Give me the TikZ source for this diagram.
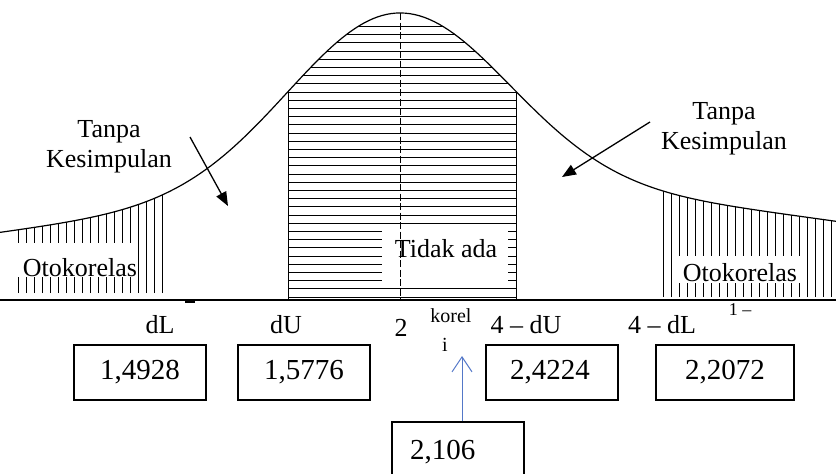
\documentclass[tikz,border=0pt]{standalone}
\usepackage{fontspec}
\setmainfont{Liberation Serif}
\usetikzlibrary{arrows.meta}
\definecolor{arrowblue}{RGB}{84,120,200}
\tikzset{
  valbox/.style={draw,line width=1.2pt,minimum width=132pt,minimum height=55pt,inner sep=0pt,font=\fontsize{29}{33}\selectfont},
  lbl/.style={font=\fontsize{26}{30}\selectfont,inner sep=0pt},
  tanpa/.style={font=\fontsize{26}{30}\selectfont,align=center,inner sep=0pt},
  pointer/.style={-{Triangle[length=14pt,width=11pt]},line width=1.3pt},
  declare function={
    bl(\t)=300-(100*exp(-((\t-400)/100)^2/40.5)+187*exp(-((\t-400)/100)^2/2.42));
    br(\t)=300-(115*exp(-((\t-400)/100)^2/50)+172*exp(-((\t-400)/100)^2/2.3328));
  }
}
\begin{document}
\begin{tikzpicture}[x=1pt,y=-1pt,line width=1pt]
\useasboundingbox (0,0) rectangle (836,474);
\begin{scope}
\clip plot[domain=0:400,samples=90] (\x,{bl(\x)}) -- plot[domain=400:836,samples=90] (\x,{br(\x)}) -- (836,300) -- (0,300) -- cycle;
\foreach \x in {18,26,...,162} \draw (\x,293) -- (\x,190);
\foreach \x in {663,671,...,836} \draw (\x,297) -- (\x,170);
\foreach \k in {0,...,33} \draw (288,{297-8.2*\k}) -- (516,{297-8.2*\k});
\draw (288,300) -- (288,60);
\draw (516,300) -- (516,60);
\end{scope}
\fill[white] (15,243) rectangle (137,277);
\fill[white] (675,256) rectangle (800,283);
\fill[white] (382,229) rectangle (508,281);
\draw[dash pattern=on 7pt off 2.5pt] (400,13) -- (400,300);
\draw[line width=1.2pt] plot[domain=0:400,samples=90] (\x,{bl(\x)}) -- plot[domain=400:836,samples=90] (\x,{br(\x)});
\draw[line width=1.2pt] (0,300) -- (836,300);
\draw[line width=2.5pt] (185,301.5) -- (195,301.5);
\node[lbl] (otoleft) at (80,268) {Otokorelas};
\node[lbl] (otoright) at (740,273) {Otokorelas};
\node[lbl] (tidak) at (446,249) {Tidak ada};
\node[tanpa] (tanpaleft) at (109,147) {Tanpa\\Kesimpulan};
\node[tanpa] (tanparight) at (724,129) {Tanpa\\Kesimpulan};
\coordinate (ltail) at (190,137);
\coordinate (lhead) at (228,206);
\coordinate (rtail) at (650,122);
\coordinate (rhead) at (562,177);
\draw[pointer] (ltail) -- (lhead);
\draw[pointer] (rtail) -- (rhead);
\node[lbl] (dl) at (160,325) {dL};
\node[lbl] (du) at (286,325) {dU};
\node[lbl] (two) at (401,328) {2};
\node[lbl] (fourdu) at (526,325) {4 – dU};
\node[lbl] (fourdl) at (662,325) {4 – dL};
\node[lbl,font=\fontsize{20}{24}\selectfont] (korel) at (451,316) {korel};
\node[lbl,font=\fontsize{20}{24}\selectfont] (korei) at (445,345) {i};
\node[lbl,font=\fontsize{18}{22}\selectfont] (onedash) at (740,310) {1 –};
\node[valbox] (vdl) at (140,372.5) {1,4928};
\node[valbox] (vdu) at (304,372.5) {1,5776};
\node[valbox,text width=84pt,align=left] (vfdu) at (552,372.5) {2,4224};
\node[valbox,minimum width=138pt] (vfdl) at (725,372.5) {2,2072};
\node[valbox,minimum height=60pt,text width=96pt,align=left] (vdw) at (458,452) {2,106};
\coordinate (btip) at (462,356);
\draw[arrowblue,-{Straight Barb[length=15pt,width=20pt]}] (vdw.north -| btip) -- (btip);
\end{tikzpicture}
\end{document}
